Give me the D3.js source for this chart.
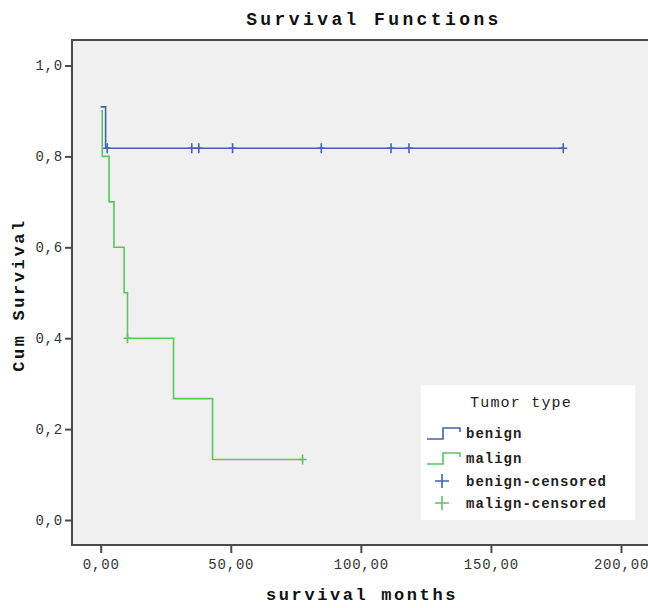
<!DOCTYPE html>
<html>
<head>
<meta charset="utf-8">
<script src="https://cdn.jsdelivr.net/npm/d3@7"></script>
<style>
  html, body { margin: 0; padding: 0; background: #fff; }
  svg { display: block; font-family: "Liberation Mono", "DejaVu Sans Mono", monospace; }
</style>
</head>
<body>
<svg id="chart" width="648" height="608"></svg>
<script>
/* ============================================================
   DATA
============================================================ */
const benignTimes = [0, 1.9, 177.8];
const benignSurv = [0.909, 0.818, 0.818];
const benignCensored = [2.5, 35, 37.7, 50.7, 84.8, 111.6, 118.5, 177.8];

const malignTimes = [0, 0.6, 3.2, 5.1, 9.0, 10.3, 28, 43, 77.6];
const malignSurv = [0.9, 0.8, 0.7, 0.6, 0.5, 0.4, 0.267, 0.133, 0.133];
const malignCensored = [10.3, 77.6];

const xTicks = [0, 50, 100, 150, 200];
const yTicks = [0, 0.2, 0.4, 0.6, 0.8, 1.0];
const legendLabels = ["benign", "malign", "benign-censored", "malign-censored"];

/* ============================================================
   SETUP
============================================================ */
const svg = d3.select("#chart");
const plot = { left: 72, top: 40, right: 670, bottom: 545 };
const blue = "#4560b0";
const green = "#5cc461";

const x = d3.scaleLinear().domain([0, 200]).range([100.7, 621]);
const y = d3.scaleLinear().domain([0, 1]).range([520, 65.5]);

const comma = d3.formatLocale({ decimal: ",", thousands: ".", grouping: [3], currency: ["", ""] });
const fmtX = comma.format(".2f");
const fmtY = comma.format(".1f");

// plot background
svg.append("rect")
  .attr("x", plot.left).attr("y", plot.top)
  .attr("width", plot.right - plot.left).attr("height", plot.bottom - plot.top)
  .attr("fill", "#f0f0f0");

// frame lines (top + left + bottom)
svg.append("path")
  .attr("d", `M${plot.right},${plot.top} L${plot.left},${plot.top} L${plot.left},${plot.bottom} L${plot.right},${plot.bottom}`)
  .attr("fill", "none").attr("stroke", "#4a4a4a").attr("stroke-width", 2);

/* ============================================================
   AXES
============================================================ */
const xAxis = svg.append("g")
  .attr("transform", `translate(0,${plot.bottom})`)
  .call(d3.axisBottom(x).tickValues(xTicks).tickFormat(fmtX).tickSize(8).tickPadding(6));
xAxis.select(".domain").remove();

const yAxis = svg.append("g")
  .attr("transform", `translate(${plot.left},0)`)
  .call(d3.axisLeft(y).tickValues(yTicks).tickFormat(fmtY).tickSize(7).tickPadding(2));
yAxis.select(".domain").remove();

[xAxis, yAxis].forEach(ax => {
  ax.selectAll(".tick line").attr("stroke", "#4a4a4a").attr("stroke-width", 2);
  ax.selectAll(".tick text")
    .attr("fill", "#333")
    .style("font-family", "'Liberation Mono', monospace")
    .style("font-size", "14px")
    .style("letter-spacing", "0.8px");
});

// titles
svg.append("text")
  .attr("x", 374).attr("y", 25)
  .attr("text-anchor", "middle")
  .style("font-size", "18px").style("font-weight", "bold").style("letter-spacing", "3.4px")
  .attr("fill", "#111")
  .text("Survival Functions");

svg.append("text")
  .attr("x", 362).attr("y", 600)
  .attr("text-anchor", "middle")
  .style("font-size", "17px").style("font-weight", "bold").style("letter-spacing", "2.6px")
  .attr("fill", "#111")
  .text("survival months");

svg.append("text")
  .attr("transform", "translate(24,295) rotate(-90)")
  .attr("text-anchor", "middle")
  .style("font-size", "17px").style("font-weight", "bold").style("letter-spacing", "2.6px")
  .attr("fill", "#111")
  .text("Cum Survival");

/* ============================================================
   CURVES
============================================================ */
const stepLine = d3.line()
  .x(d => x(d[0]))
  .y(d => y(d[1]))
  .curve(d3.curveStepAfter);

function survAt(times, surv, t) {
  let s = surv[0];
  times.forEach((tt, i) => { if (tt <= t) s = surv[i]; });
  return s;
}

const groups = [
  { times: benignTimes, surv: benignSurv, cens: benignCensored, color: blue },
  { times: malignTimes, surv: malignSurv, cens: malignCensored, color: green }
];

groups.forEach(g => {
  svg.append("path")
    .datum(d3.zip(g.times, g.surv))
    .attr("d", stepLine)
    .attr("fill", "none")
    .attr("stroke", g.color)
    .attr("stroke-width", 1.6);

  svg.append("g").selectAll("path")
    .data(g.cens)
    .join("path")
    .attr("d", t => {
      const cx = x(t), cy = y(survAt(g.times, g.surv, t));
      return `M${cx - 4},${cy} L${cx + 4},${cy} M${cx},${cy - 5} L${cx},${cy + 5}`;
    })
    .attr("stroke", g.color)
    .attr("stroke-width", 1.6);
});

/* ============================================================
   LEGEND
============================================================ */
const legend = svg.append("g");
legend.append("rect")
  .attr("x", 421).attr("y", 385).attr("width", 214).attr("height", 135)
  .attr("fill", "#fff");

legend.append("text")
  .attr("x", 521).attr("y", 407)
  .attr("text-anchor", "middle")
  .style("font-size", "15px").style("letter-spacing", "1.2px")
  .attr("fill", "#222")
  .text("Tumor type");

const rowY = [433, 458, 481, 503];
const rowColors = [blue, green, blue, green];

legendLabels.forEach((lab, i) => {
  const cy = rowY[i];
  if (i < 2) {
    legend.append("path")
      .attr("d", `M427,${cy + 6} L443,${cy + 6} L443,${cy - 5} L460,${cy - 5} L460,${cy - 1}`)
      .attr("fill", "none").attr("stroke", rowColors[i]).attr("stroke-width", 1.6);
  } else {
    legend.append("path")
      .attr("d", `M435,${cy} L449,${cy} M442,${cy - 7} L442,${cy + 7}`)
      .attr("stroke", rowColors[i]).attr("stroke-width", 1.6);
  }
  legend.append("text")
    .attr("x", 466).attr("y", cy + 5)
    .style("font-size", "14px").style("font-weight", "bold").style("letter-spacing", "1px")
    .attr("fill", "#222")
    .text(lab);
});
</script>
</body>
</html>
